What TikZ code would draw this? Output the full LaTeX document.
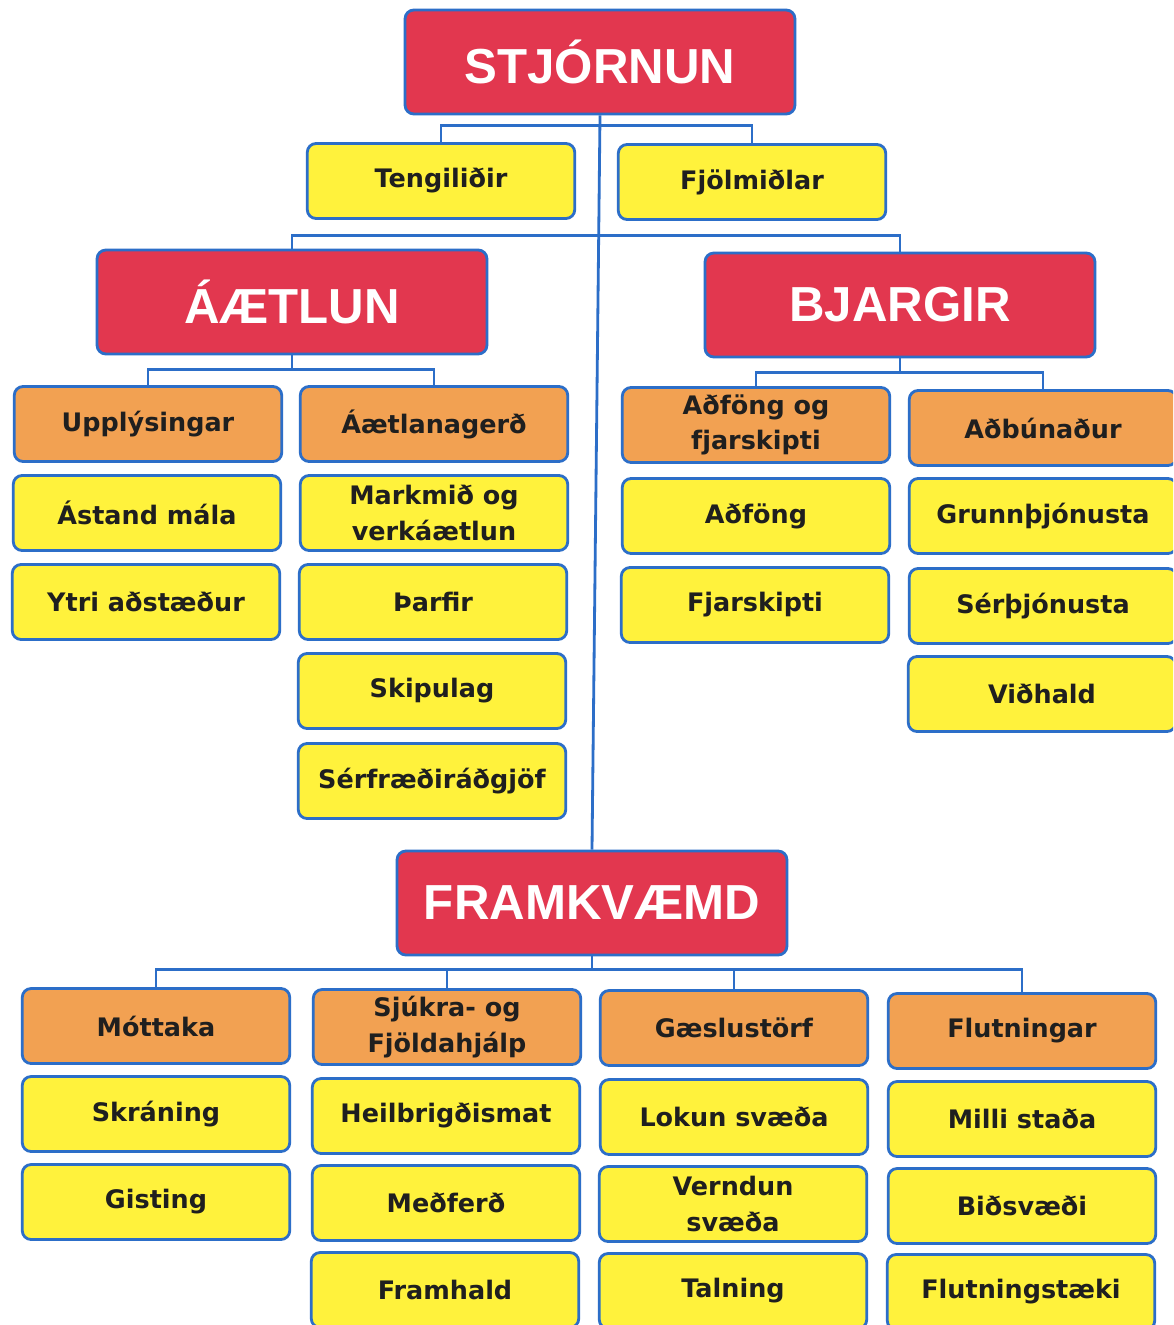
\documentclass[tikz,border=0pt]{standalone}
\usepackage{fontspec}
\setmainfont{DejaVu Sans}
\newfontfamily\titlefont{Liberation Sans}
\definecolor{boxred}{HTML}{E2374F}
\definecolor{boxorange}{HTML}{F2A152}
\definecolor{boxyellow}{HTML}{FFF23C}
\definecolor{lineblue}{HTML}{2C6EC8}

\begin{document}
\begin{tikzpicture}[x=0.02cm,y=-0.02cm,
	box/.style={draw=lineblue,line width=1.6pt,rounded corners=5pt,align=center,text=black!88,
		font=\bfseries\fontsize{14.5}{20}\selectfont,minimum width=5.35cm,minimum height=1.5cm,inner sep=1pt},
	item/.style={box,fill=boxyellow},
	group/.style={box,fill=boxorange},
	head/.style={box,fill=boxred,text=white,font=\titlefont\bfseries\fontsize{28}{32}\selectfont,
		minimum width=7.8cm,minimum height=2.08cm},
	link/.style={draw=lineblue,line width=1.6pt}]
				\clip (0,0) rectangle (1173,1325);
				\fill[white] (0,0) rectangle (1173,1325);
				\node[head] (stjornun) at (600, 62) {STJÓRNUN};
				\node[item] (teng) at (441, 181) {Tengiliðir};
				\node[item] (fjol) at (752, 182) {Fjölmiðlar};
				\node[head] (aaetlun) at (292, 302) {ÁÆTLUN};
				\node[head] (bjargir) at (900, 305) {BJARGIR};
				\node[head] (framkv) at (592, 903) {FRAMKVÆMD};
				\node[group] (uppl) at (148, 424) {Upplýsingar};
				\node[item] (astand) at (147, 513) {Ástand mála};
				\node[item] (ytri) at (146, 602) {Ytri aðstæður};
				\node[group] (aaetl) at (434, 424) {Áætlanagerð};
				\node[item] (markmid) at (434, 513) {Markmið og\\verkáætlun};
				\node[item] (tharfir) at (433, 602) {Þarfir};
				\node[item] (skipulag) at (432, 691) {Skipulag};
				\node[item] (serfr) at (432, 781) {Sérfræðiráðgjöf};
				\node[group] (adffj) at (756, 425) {Aðföng og\\fjarskipti};
				\node[item] (adfong) at (756, 516) {Aðföng};
				\node[item] (fjarsk) at (755, 605) {Fjarskipti};
				\node[group] (adbun) at (1043, 428) {Aðbúnaður};
				\node[item] (grunn) at (1043, 516) {Grunnþjónusta};
				\node[item] (serth) at (1043, 606) {Sérþjónusta};
				\node[item] (vidhald) at (1042, 694) {Viðhald};
				\node[group] (mott) at (156, 1026) {Móttaka};
				\node[item] (skran) at (156, 1114) {Skráning};
				\node[item] (gist) at (156, 1202) {Gisting};
				\node[group] (sjukra) at (447, 1027) {Sjúkra- og\\Fjöldahjálp};
				\node[item] (heilbr) at (446, 1116) {Heilbrigðismat};
				\node[item] (medf) at (446, 1203) {Meðferð};
				\node[item] (framh) at (445, 1290) {Framhald};
				\node[group] (gaesl) at (734, 1028) {Gæslustörf};
				\node[item] (lokun) at (734, 1117) {Lokun svæða};
				\node[item] (vernd) at (733, 1204) {Verndun\\svæða};
				\node[item] (taln) at (733, 1291) {Talning};
				\node[group] (flutn) at (1022, 1031) {Flutningar};
				\node[item] (milli) at (1022, 1119) {Milli staða};
				\node[item] (bids) at (1022, 1206) {Biðsvæði};
				\node[item] (flutnt) at (1021, 1292) {Flutningstæki};
				\draw[link] (stjornun.south) -- (framkv.north);
				\draw[link] (teng.north) -- ++(0,-17) -| (fjol.north);
				\draw[link] (aaetlun.north) -- ++(0,-13) -| (bjargir.north);
				\draw[link] (uppl.north) -- ++(0,-16) coordinate (a1) -| (aaetl.north);
				\draw[link] (aaetlun.south) -- (aaetlun.south |- a1);
				\draw[link] (adffj.north) -- ++(0,-14) coordinate (b1) -| (adbun.north);
				\draw[link] (bjargir.south) -- (bjargir.south |- b1);
				\draw[link] (mott.north) -- ++(0,-18) coordinate (f1) -| (flutn.north);
				\draw[link] (sjukra.north) -- (sjukra.north |- f1);
				\draw[link] (gaesl.north) -- (gaesl.north |- f1);
				\draw[link] (framkv.south) -- (framkv.south |- f1);
			\end{tikzpicture}
\end{document}
